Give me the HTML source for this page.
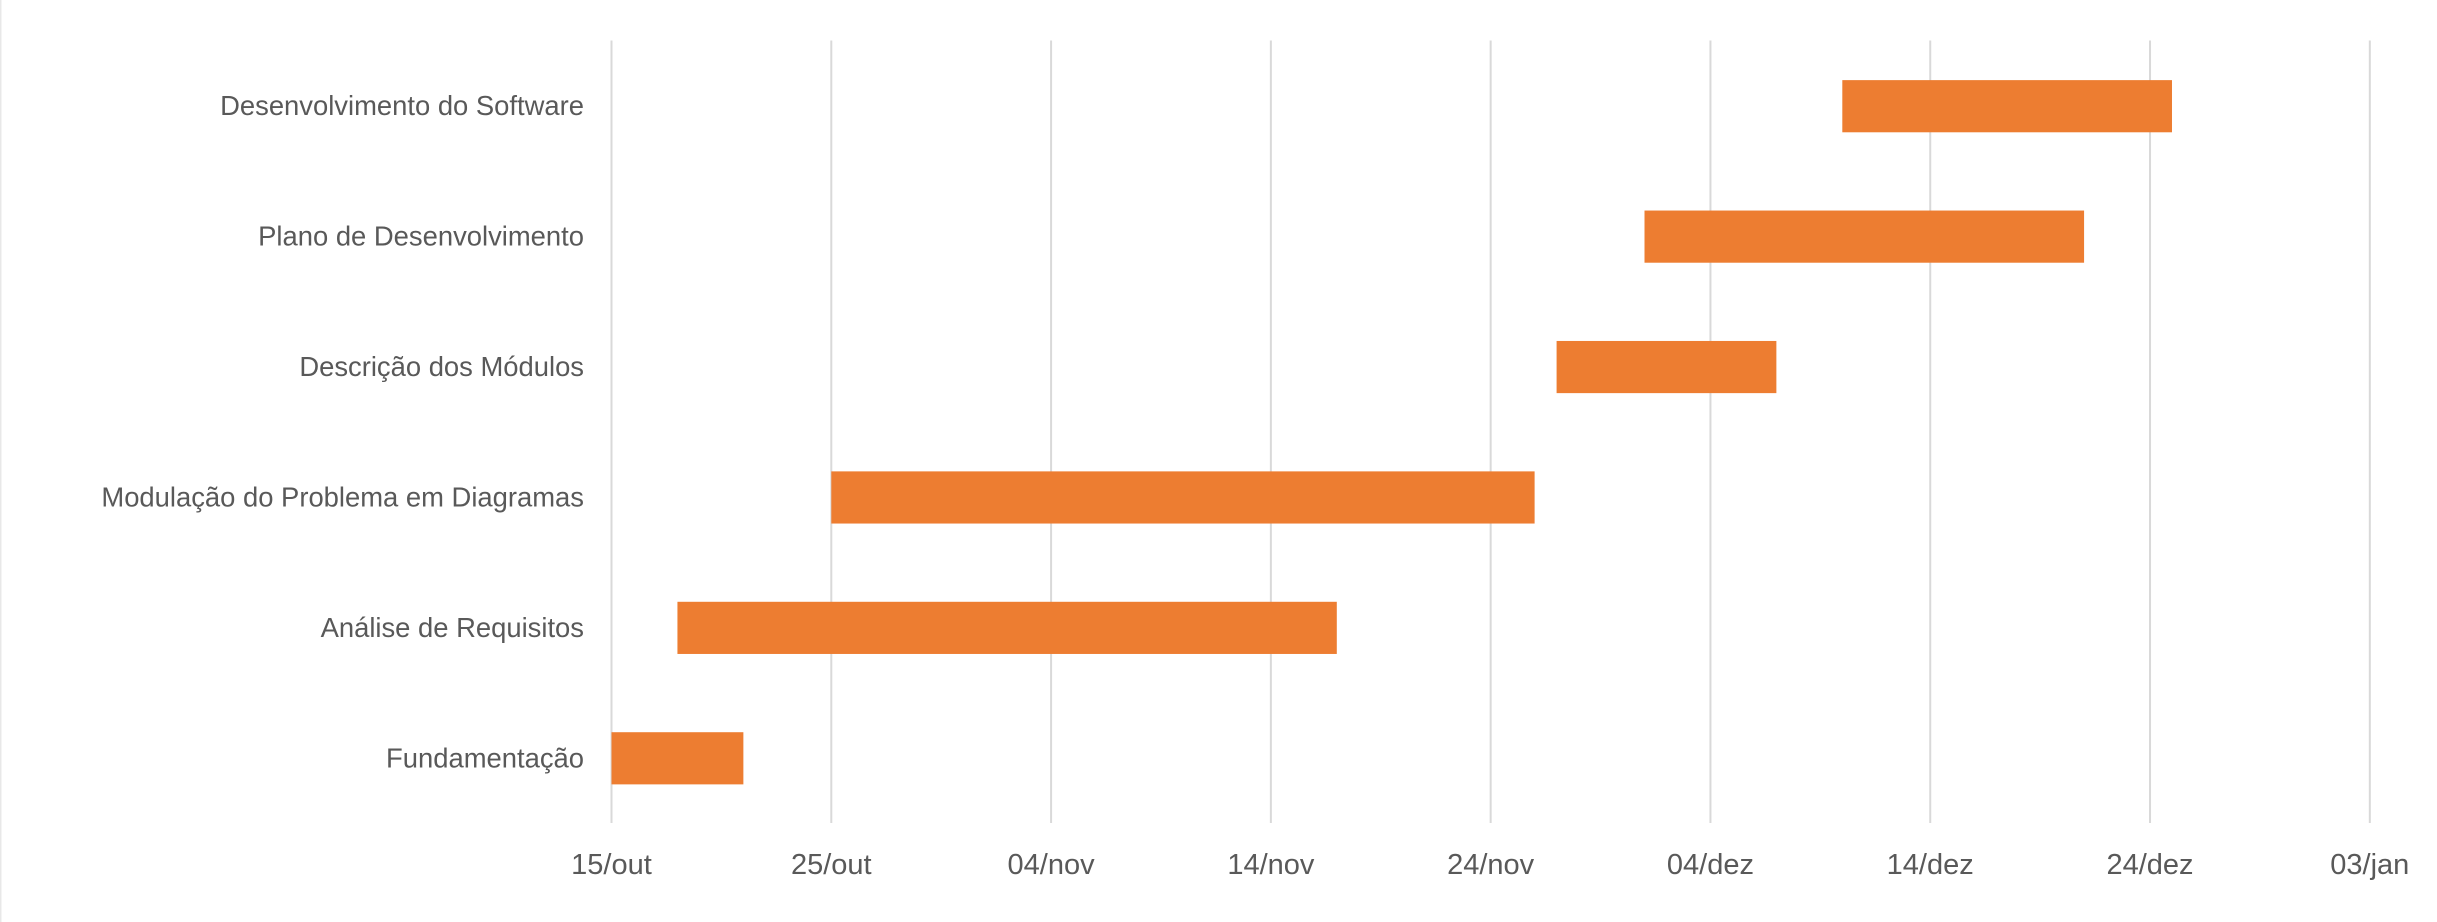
<!DOCTYPE html>
<html lang="pt">
<head>
<meta charset="utf-8">
<title>Cronograma</title>
<style>
  html, body { margin: 0; padding: 0; background: #ffffff; }
  body { width: 2437px; height: 922px; overflow: hidden; }
  svg { display: block; }
  text { font-family: "Liberation Sans", sans-serif; fill: #595959; font-size: 27.4px; }
  #xlabels text { font-size: 29px; }
</style>
</head>
<body>
<svg id="chart" xmlns="http://www.w3.org/2000/svg" width="2437" height="922" viewBox="0 0 2437 922">
  <rect x="0" y="0" width="2437" height="922" fill="#ffffff"></rect>
  <rect x="0" y="0" width="1.5" height="922" fill="#e8e8e8"></rect>
  <g id="grid"></g>
  <g id="bars"></g>
  <g id="ylabels"></g>
  <g id="xlabels"></g>
</svg>
<script>
// Tasks, listed from the bottom row to the top row
const tasks = ["Fundamentação", "Análise de Requisitos", "Modulação do Problema em Diagramas", "Descrição dos Módulos", "Plano de Desenvolvimento", "Desenvolvimento do Software"];
// Days counted from 15/out
const startDays = [0, 3, 10, 43, 47, 56];
const durationDays = [6, 30, 32, 10, 20, 15];
const tickDays = [0, 10, 20, 30, 40, 50, 60, 70, 80];
const tickLabels = ["15/out", "25/out", "04/nov", "14/nov", "24/nov", "04/dez", "14/dez", "24/dez", "03/jan"];

const NS = "http://www.w3.org/2000/svg";
const plot = { left: 611.5, right: 2369.8, top: 40.5, bottom: 823 };
const domainMax = 80;
const barRatio = 0.4;

function xScale(day) {
  return plot.left + (day / domainMax) * (plot.right - plot.left);
}
function bandHeight() {
  return (plot.bottom - plot.top) / tasks.length;
}
function yCenter(index) {
  return plot.bottom - (index + 0.5) * bandHeight();
}

const gridLayer = document.getElementById("grid");
const barLayer = document.getElementById("bars");
const yLayer = document.getElementById("ylabels");
const xLayer = document.getElementById("xlabels");

tickDays.forEach(function (day, i) {
  const line = document.createElementNS(NS, "line");
  
  
  line.setAttribute("x1", xScale(day));
  line.setAttribute("x2", xScale(day));
  line.setAttribute("y1", plot.top);
  line.setAttribute("y2", plot.bottom);
  line.setAttribute("stroke", "#d9d9d9");
  line.setAttribute("stroke-width", "2");
  gridLayer.appendChild(line);

  const label = document.createElementNS(NS, "text");
  
  
  label.setAttribute("x", xScale(day));
  label.setAttribute("y", 874);
  label.setAttribute("text-anchor", "middle");
  label.textContent = tickLabels[i];
  xLayer.appendChild(label);
});

tasks.forEach(function (name, i) {
  const h = bandHeight() * barRatio;
  const bar = document.createElementNS(NS, "rect");
  
  
  bar.setAttribute("x", xScale(startDays[i]));
  bar.setAttribute("y", yCenter(i) - h / 2 + 0.5);
  bar.setAttribute("width", xScale(startDays[i] + durationDays[i]) - xScale(startDays[i]));
  bar.setAttribute("height", h);
  bar.setAttribute("fill", "#ed7d31");
  barLayer.appendChild(bar);

  const label = document.createElementNS(NS, "text");
  
  
  label.setAttribute("x", 584);
  label.setAttribute("y", yCenter(i) + 9.5);
  label.setAttribute("text-anchor", "end");
  label.textContent = name;
  yLayer.appendChild(label);
});
</script>
</body>
</html>
